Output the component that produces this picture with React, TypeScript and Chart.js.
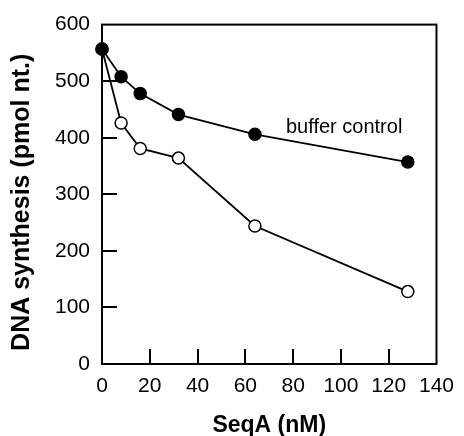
import React, { useEffect, useRef } from "react";
import { Chart, registerables } from "chart.js";

Chart.register(...registerables);

// ---- data ----
const seqAnM = [0, 8, 16, 32, 64, 128];
const bufferControl = [557, 508, 478, 441, 406, 357];
const withSeqA = [557, 426, 381, 364, 244, 128];
const xTickValues = [0, 20, 40, 60, 80, 100, 120, 140];
const yTickValues = [0, 100, 200, 300, 400, 500, 600];
const xTitle = "SeqA (nM)";
const yTitle = "DNA synthesis (pmol nt.)";
const annotationText = "buffer control";
const annotationX = 77;
const annotationY = 408;

const FONT = "'Liberation Sans', Arial, Helvetica, sans-serif";

const framePlugin = {
  id: "frameAndTicks",
  afterDraw(chart: any) {
    const { ctx, chartArea } = chart;
    const xs = chart.scales.x;
    const ys = chart.scales.y;
    ctx.save();
    ctx.strokeStyle = "#000";
    ctx.lineWidth = 2;
    ctx.strokeRect(chartArea.left, chartArea.top, chartArea.right - chartArea.left, chartArea.bottom - chartArea.top);
    const tl = 15;
    ctx.beginPath();
    for (const v of xTickValues) {
      if (v === xTickValues[0] || v === xTickValues[xTickValues.length - 1]) continue;
      const px = Math.round(xs.getPixelForValue(v));
      ctx.moveTo(px, chartArea.bottom);
      ctx.lineTo(px, chartArea.bottom - tl);
    }
    for (const v of yTickValues) {
      if (v === yTickValues[0] || v === yTickValues[yTickValues.length - 1]) continue;
      const py = Math.round(ys.getPixelForValue(v));
      ctx.moveTo(chartArea.left, py);
      ctx.lineTo(chartArea.left + tl, py);
    }
    ctx.stroke();

    // annotation
    ctx.fillStyle = "#000";
    ctx.font = `20px ${FONT}`;
    ctx.textAlign = "left";
    ctx.textBaseline = "alphabetic";
    ctx.fillText(annotationText, xs.getPixelForValue(annotationX), ys.getPixelForValue(annotationY));

    // y title
    ctx.translate(22.5, (chartArea.top + chartArea.bottom) / 2 + 8);
    ctx.rotate(-Math.PI / 2);
    ctx.font = `bold 25px ${FONT}`;
    ctx.textAlign = "center";
    ctx.textBaseline = "middle";
    ctx.fillText(yTitle, 0, 0);
    ctx.restore();
  },
};

export default function App() {
  const ref = useRef<HTMLCanvasElement | null>(null);

  useEffect(() => {
    if (!ref.current) return;
    const chart = new Chart(ref.current, {
      type: "line",
      data: {
        datasets: [
          {
            label: "buffer control",
            data: seqAnM.map((x, i) => ({ x, y: bufferControl[i] })),
            borderColor: "#000",
            borderWidth: 1.8,
            backgroundColor: "#000",
            pointBackgroundColor: "#000",
            pointBorderColor: "#000",
            pointBorderWidth: 1.5,
            pointRadius: 6,
            clip: false,
          },
          {
            label: "SeqA",
            data: seqAnM.map((x, i) => ({ x, y: withSeqA[i] })),
            borderColor: "#000",
            borderWidth: 1.8,
            backgroundColor: "#fff",
            pointBackgroundColor: "#fff",
            pointBorderColor: "#000",
            pointBorderWidth: 1.5,
            pointRadius: 6,
            clip: false,
          },
        ],
      },
      options: {
        responsive: false,
        animation: false,
        layout: { padding: { top: 23, right: 20, left: 0, bottom: 0 } },
        plugins: { legend: { display: false }, tooltip: { enabled: false } },
        scales: {
          x: {
            type: "linear",
            min: 0,
            max: 140,
            afterBuildTicks: (s: any) => {
              s.ticks = xTickValues.map((v) => ({ value: v }));
            },
            afterFit: (s: any) => {
              s.height = 72;
            },
            grid: { display: false, drawTicks: false },
            border: { display: false },
            ticks: {
              color: "#000",
              padding: 10,
              maxRotation: 0,
              autoSkip: false,
              font: { family: FONT, size: 21 },
            },
            title: {
              display: true,
              text: xTitle,
              color: "#000",
              padding: 0,
              font: { family: FONT, size: 23, weight: "bold", lineHeight: 0.87 },
            },
          },
          y: {
            type: "linear",
            min: 0,
            max: 600,
            afterBuildTicks: (s: any) => {
              s.ticks = yTickValues.map((v) => ({ value: v }));
            },
            afterFit: (s: any) => {
              s.width = 102;
            },
            grid: { display: false, drawTicks: false },
            border: { display: false },
            ticks: {
              color: "#000",
              padding: 12,
              autoSkip: false,
              font: { family: FONT, size: 21 },
            },
          },
        },
      },
      plugins: [framePlugin],
    });
    return () => chart.destroy();
  }, []);

  return (
    <div style={{ position: "fixed", left: 0, top: 0, width: 464, height: 436, background: "#fff" }}>
      <canvas ref={ref} width={464} height={436} style={{ display: "block" }} />
    </div>
  );
}
